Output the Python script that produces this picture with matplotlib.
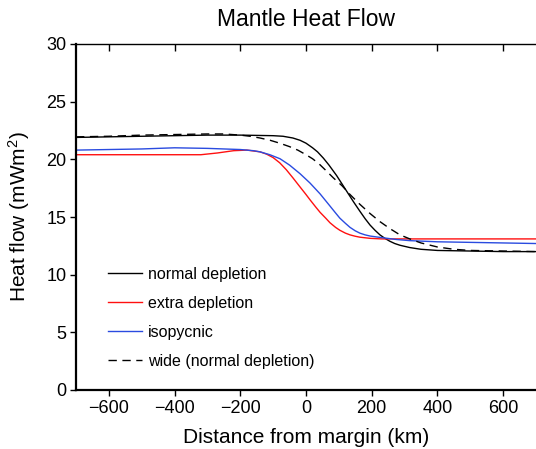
import matplotlib
matplotlib.use("Agg")
import matplotlib.pyplot as plt

plt.rcParams['font.family'] = ['Liberation Sans', 'DejaVu Sans']
plt.rcParams['mathtext.fontset'] = 'custom'
plt.rcParams['mathtext.rm'] = 'Liberation Sans'
plt.rcParams['mathtext.it'] = 'Liberation Sans'

# ---- data ----
normal_x = [-700, -600, -500, -400, -300, -200, -100, -70, -40, -18, 0, 20, 35, 53,
            70, 93, 110, 128, 145, 164, 180, 195, 210, 225, 240, 255, 270, 286,
            316, 350, 400, 500, 600, 700]
normal_y = [21.9, 21.95, 22.0, 22.05, 22.1, 22.1, 22.05, 22.0, 21.85, 21.65, 21.4,
            21.0, 20.65, 20.1, 19.5, 18.6, 17.85, 17.05, 16.3, 15.5, 14.85, 14.3,
            13.85, 13.45, 13.15, 12.9, 12.7, 12.55, 12.35, 12.2, 12.1, 12.05,
            12.0, 12.0]

extra_x = [-700, -600, -500, -400, -320, -270, -220, -180, -140, -120, -100, -80,
           -60, -40, -18, 0, 12, 30, 43, 60, 73, 90, 103, 120, 134, 150, 164, 195,
           230, 300, 400, 700]
extra_y = [20.4, 20.4, 20.4, 20.4, 20.4, 20.55, 20.75, 20.8, 20.65, 20.45, 20.15,
           19.7, 19.1, 18.4, 17.6, 16.95, 16.5, 15.85, 15.4, 14.9, 14.5, 14.1,
           13.85, 13.6, 13.45, 13.33, 13.25, 13.15, 13.1, 13.1, 13.1, 13.1]

iso_x = [-700, -600, -500, -400, -300, -200, -160, -140, -110, -79, -50, -18, 12,
         43, 73, 90, 103, 120, 134, 150, 164, 180, 195, 215, 234, 275, 316, 400,
         500, 600, 700]
iso_y = [20.8, 20.85, 20.9, 21.0, 20.95, 20.85, 20.75, 20.65, 20.4, 20.05, 19.5,
         18.75, 17.95, 17.0, 15.95, 15.35, 14.9, 14.45, 14.1, 13.8, 13.6, 13.45,
         13.35, 13.27, 13.2, 13.05, 12.95, 12.85, 12.8, 12.75, 12.7]

wide_x = [-700, -600, -500, -400, -300, -250, -200, -170, -140, -109, -80, -50,
          -25, 0, 20, 40, 60, 83, 110, 134, 164, 195, 225, 255, 286, 316, 350,
          400, 450, 500, 600, 700]
wide_y = [21.95, 22.0, 22.1, 22.15, 22.2, 22.2, 22.1, 22.0, 21.85, 21.65, 21.4,
          21.1, 20.8, 20.4, 20.05, 19.6, 19.05, 18.4, 17.7, 16.95, 16.1, 15.3,
          14.6, 14.0, 13.45, 13.1, 12.75, 12.4, 12.2, 12.1, 12.05, 12.0]

labels = ["normal depletion", "extra depletion", "isopycnic", "wide (normal depletion)"]
x_ticks = [-600, -400, -200, 0, 200, 400, 600]
y_ticks = [0, 5, 10, 15, 20, 25, 30]

# ---- figure ----
fig = plt.figure(figsize=(5.36, 4.49), dpi=100)
ax = fig.add_axes([76 / 536, 59 / 449, 460 / 536, 346 / 449])

ax.plot(normal_x, normal_y, color='black', lw=1.0, label=labels[0])
ax.plot(extra_x, extra_y, color='#ff1010', lw=1.0, label=labels[1])
ax.plot(iso_x, iso_y, color='#2a4be0', lw=1.0, label=labels[2])
ax.plot(wide_x, wide_y, color='black', lw=1.0, ls=(0, (6, 4)), label=labels[3])

ax.set_xlim(-700, 700)
ax.set_ylim(0, 30)
ax.set_xticks(x_ticks)
ax.set_yticks(y_ticks)
ax.tick_params(axis='both', labelsize=13, direction='out', length=4, width=1.0, pad=3)
ax.tick_params(axis='x', top=False)

ax.spines['right'].set_visible(False)
ax.spines['left'].set_linewidth(1.6)
ax.spines['bottom'].set_linewidth(1.6)
ax.spines['top'].set_linewidth(1.0)

# inward ticks on the top spine
sec = ax.secondary_xaxis('top')
sec.set_xticks(x_ticks)
sec.tick_params(direction='in', length=5, width=1.0, labeltop=False)
sec.spines['top'].set_visible(False)

ax.set_title("Mantle Heat Flow", fontsize=16.5, pad=13)
ax.set_xlabel("Distance from margin (km)", fontsize=15, labelpad=8)
ax.set_ylabel("Heat flow (mWm$^{2}$)", fontsize=15, labelpad=10)

ax.legend(loc='lower left', bbox_to_anchor=(32 / 460, 21 / 346), frameon=False,
          fontsize=11.5, handlelength=2.1, handletextpad=0.4, labelspacing=0.88,
          borderpad=0, borderaxespad=0)

fig.savefig("out.png", dpi=100)
